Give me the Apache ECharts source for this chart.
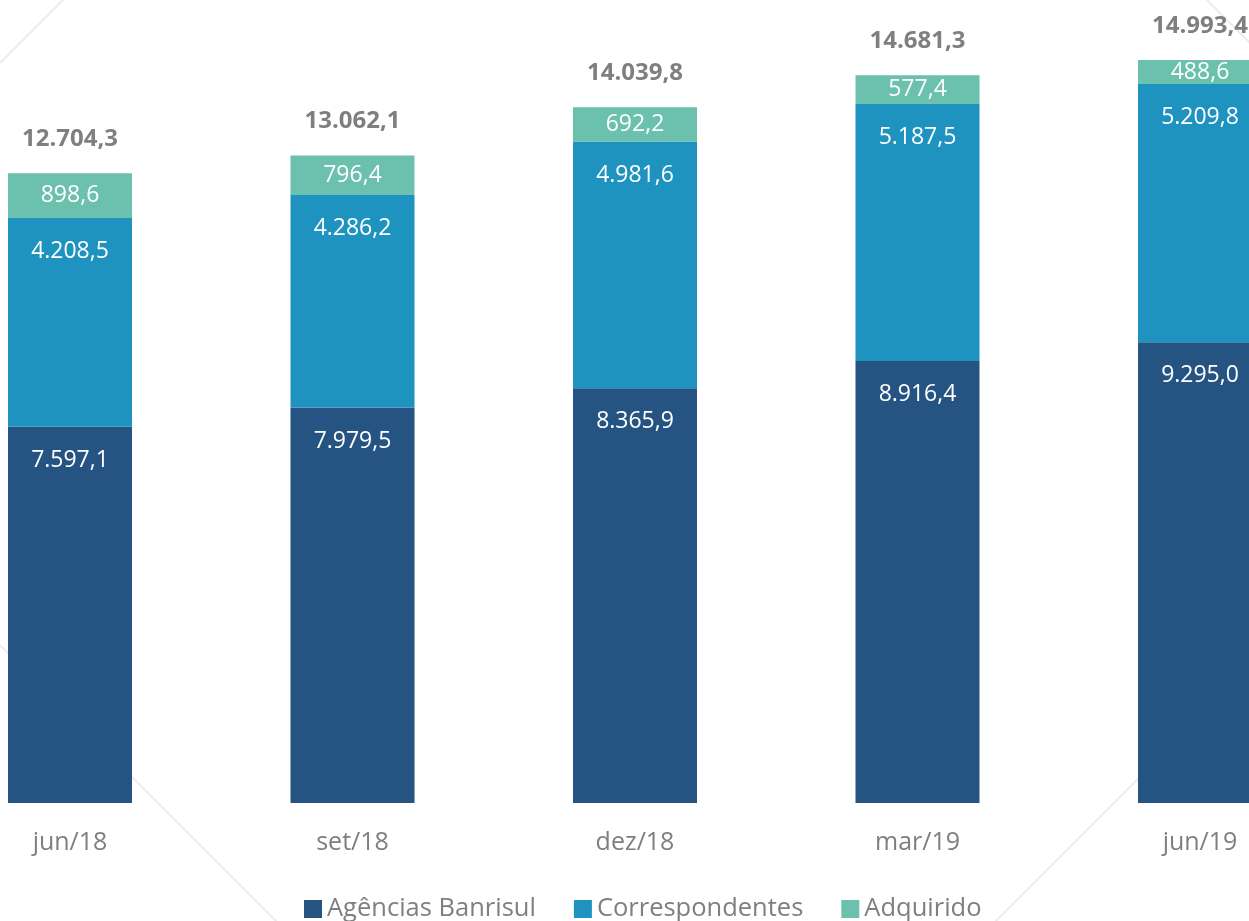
<!DOCTYPE html>
<html>
<head>
<meta charset="utf-8">
<script src="https://cdn.jsdelivr.net/npm/echarts@6/dist/echarts.min.js"></script>
<style>
  html, body { margin: 0; padding: 0; background: #fff; }
  #chart { width: 1249px; height: 921px; }
</style>
</head>
<body>
<div id="chart"></div>
<script>
  // periodos
  var categories = ['jun/18', 'set/18', 'dez/18', 'mar/19', 'jun/19'];
  // valores por canal
  var agencias = [7597.1, 7979.5, 8365.9, 8916.4, 9295.0];
  var correspondentes = [4208.5, 4286.2, 4981.6, 5187.5, 5209.8];
  var adquirido = [898.6, 796.4, 692.2, 577.4, 488.6];
  var totais = [12704.3, 13062.1, 14039.8, 14681.3, 14993.4];

  var FONT = '"Open Sans", "Noto Sans", sans-serif';

  // formato pt-BR: 12.704,3
  function fmt(v) {
    var s = Number(v).toFixed(1).split('.');
    var inteiro = s[0].replace(/\B(?=(\d{3})+(?!\d))/g, '.');
    return inteiro + ',' + s[1];
  }

  var myChart = echarts.init(document.getElementById('chart'));

  var segLabel = {
    show: true,
    position: 'insideTop',
    distance: 22,
    color: '#fff',
    fontFamily: FONT,
    fontSize: 23,
    formatter: function (p) { return fmt(p.value); }
  };

  var option = {
    backgroundColor: '#fff',
    animation: false,
    grid: { left: -71.25, right: -92.25, top: 10, bottom: 118, containLabel: false, outerBoundsMode: 'none' },
    legend: {
      data: ['Agências Banrisul', 'Correspondentes', 'Adquirido'],
      left: 299,
      top: 891,
      itemWidth: 18,
      itemHeight: 18,
      itemGap: 38,
      icon: 'rect',
      textStyle: { color: '#7f7f7f', fontSize: 25.5, fontFamily: FONT }
    },
    xAxis: {
      type: 'category',
      data: categories,
      axisLine: { show: false },
      axisTick: { show: false },
      axisLabel: { color: '#7f7f7f', fontSize: 25, fontFamily: FONT, margin: 27 }
    },
    yAxis: {
      type: 'value',
      min: 0,
      max: 16000,
      show: false,
      splitLine: { show: false }
    },
    graphic: [
      // linhas decorativas do fundo
      { type: 'line', silent: true, z: -10, shape: { x1: 0, y1: 63, x2: 65, y2: -2 }, style: { stroke: '#ececec', lineWidth: 2 } },
      { type: 'line', silent: true, z: -10, shape: { x1: 0, y1: 645, x2: 280, y2: 925 }, style: { stroke: '#ececec', lineWidth: 2 } },
      { type: 'line', silent: true, z: -10, shape: { x1: 992, y1: 925, x2: 1160, y2: 757 }, style: { stroke: '#ececec', lineWidth: 2 } },
      { type: 'line', silent: true, z: -10, shape: { x1: 1205, y1: -2, x2: 1252, y2: 45 }, style: { stroke: '#ececec', lineWidth: 2 } }
    ],
    series: [
      {
        name: 'Agências Banrisul',
        type: 'bar',
        stack: 'total',
        barWidth: 124,
        data: agencias,
        itemStyle: { color: '#255482' },
        label: segLabel
      },
      {
        name: 'Correspondentes',
        type: 'bar',
        stack: 'total',
        barWidth: 124,
        data: correspondentes,
        itemStyle: { color: '#1e93c0' },
        label: segLabel
      },
      {
        name: 'Adquirido',
        type: 'bar',
        stack: 'total',
        barWidth: 124,
        data: adquirido,
        itemStyle: { color: '#6bc1ad' },
        label: {
          show: true,
          position: 'inside',
          color: '#fff',
          fontFamily: FONT,
          fontSize: 23,
          formatter: function (p) { return fmt(p.value); }
        }
      },
      {
        name: 'Total',
        type: 'bar',
        barWidth: 124,
        barGap: '-100%',
        z: 1,
        data: totais,
        itemStyle: { color: 'rgba(0,0,0,0)' },
        label: {
          show: true,
          position: 'top',
          distance: 22,
          color: '#7f7f7f',
          fontWeight: 'bold',
          fontFamily: FONT,
          fontSize: 24,
          formatter: function (p) { return fmt(p.value); }
        }
      }
    ]
  };

  myChart.setOption(option);
</script>
</body>
</html>
